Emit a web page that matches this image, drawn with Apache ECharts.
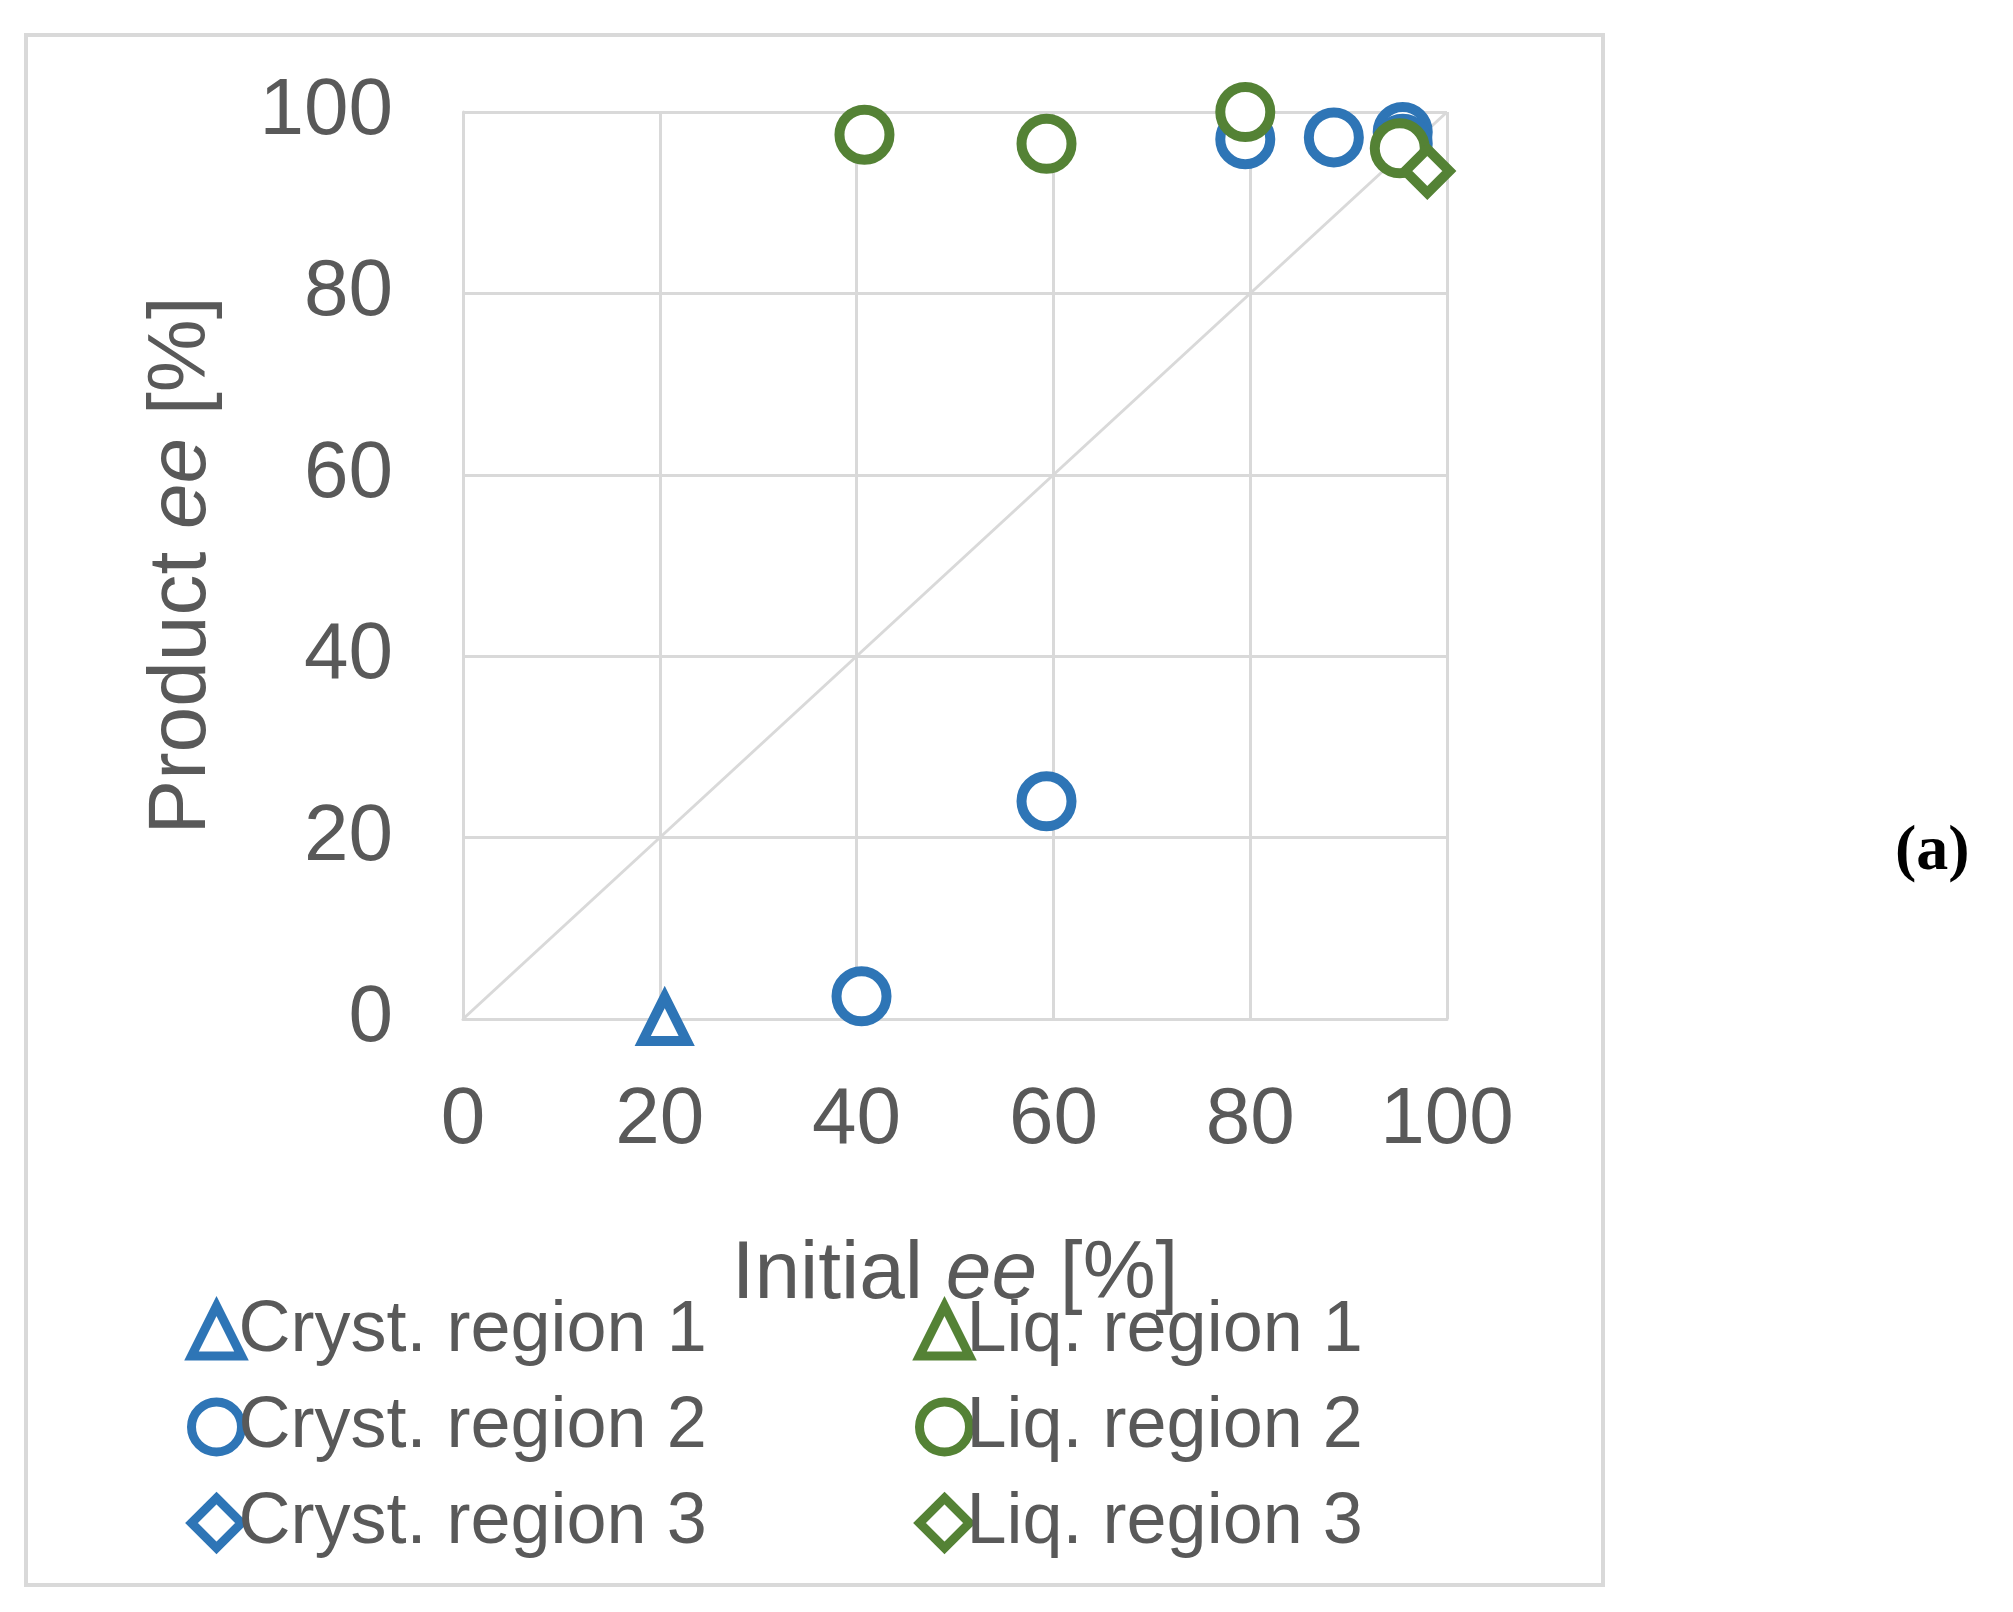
<!DOCTYPE html><html><head><meta charset="utf-8">
<script src="https://cdn.jsdelivr.net/npm/echarts@6/dist/echarts.min.js"></script>
<style>html,body{margin:0;background:#fff}#c{width:2013px;height:1612px}</style></head><body><div id="c"></div>
<script>
const crystRegion1 = [[20.5, 0]];
const crystRegion2 = [[40.5, 2.5], [59.3, 24], [79.5, 97], [88.5, 97.2], [95.5, 97.8], [95.5, 96.5]];
const crystRegion3 = [];
const liqRegion1 = [];
const liqRegion2 = [[40.8, 97.5], [59.3, 96.5], [79.5, 100], [95.2, 96]];
const liqRegion3 = [[98, 93.5]];
const diagonal = [[0, 0], [100, 100]];
const ticks = [0, 20, 40, 60, 80, 100];
const blue = '#2E75B6', green = '#548235', grey = '#595959';
const ff = 'Arial, "Liberation Sans", sans-serif';
function sc(name, data, sym, color, size) {
  return {name, type: 'scatter', data, symbol: sym, symbolSize: size,
    itemStyle: {color: '#fff', borderColor: color, borderWidth: 10, opacity: 1}, z: 3};
}
function legendIcon(color){ return {color: '#fff', borderColor: color, borderWidth: 9}; }
const chart = echarts.init(document.getElementById('c'));
const nameRich = {a: {fontSize: 82, color: grey, fontFamily: ff}, b: {fontSize: 82, color: grey, fontFamily: ff, fontStyle: 'italic'}};
chart.setOption({
  animation: false,
  graphic: [{type: 'rect', shape: {x: 26, y: 35, width: 1577, height: 1550},
    style: {fill: 'none', stroke: '#d9d9d9', lineWidth: 4}},
    {type: 'text', left: 1895, top: 820, style: {text: '(a)', font: 'bold 64px "Liberation Serif", serif', fill: '#000'}}],
  grid: {left: 463, right: 2013 - 1447, top: 112, bottom: 1612 - 1019},
  xAxis: {type: 'value', min: 0, max: 100, interval: 20,
    name: '{a|Initial }{b|ee}{a| [%]}', nameLocation: 'middle', nameGap: 215,
    nameTextStyle: {rich: nameRich},
    axisLine: {lineStyle: {color: '#d9d9d9', width: 3}}, axisTick: {show: false},
    splitLine: {lineStyle: {color: '#d9d9d9', width: 3}},
    axisLabel: {fontSize: 80, color: grey, fontFamily: ff, margin: 62}},
  yAxis: {type: 'value', min: 0, max: 100, interval: 20,
    name: '{a|Product }{b|ee}{a| [%]}', nameLocation: 'middle', nameGap: 240,
    nameTextStyle: {rich: nameRich},
    axisLine: {show: true, lineStyle: {color: '#d9d9d9', width: 3}}, axisTick: {show: false},
    splitLine: {lineStyle: {color: '#d9d9d9', width: 3}},
    axisLabel: {fontSize: 80, color: grey, fontFamily: ff, margin: 70}},
  legend: [
    {orient: 'vertical', left: 182, top: 1290, itemWidth: 50, itemHeight: 50, itemGap: 24,
      data: [{name: 'Cryst. region 1', itemStyle: legendIcon(blue)}, {name: 'Cryst. region 2', itemStyle: legendIcon(blue)}, {name: 'Cryst. region 3', itemStyle: legendIcon(blue)}],
      textStyle: {fontSize: 72, color: grey, fontFamily: ff, padding: [0, 0, 0, -8]}},
    {orient: 'vertical', left: 910, top: 1290, itemWidth: 50, itemHeight: 50, itemGap: 24,
      data: [{name: 'Liq. region 1', itemStyle: legendIcon(green)}, {name: 'Liq. region 2', itemStyle: legendIcon(green)}, {name: 'Liq. region 3', itemStyle: legendIcon(green)}],
      textStyle: {fontSize: 72, color: grey, fontFamily: ff, padding: [0, 0, 0, -8]}}],
  series: [
    {type: 'line', data: diagonal, symbol: 'none', lineStyle: {color: '#d9d9d9', width: 3}, z: 1, silent: true},
    sc('Cryst. region 1', crystRegion1, 'triangle', blue, 44),
    sc('Cryst. region 2', crystRegion2, 'circle', blue, 50),
    sc('Cryst. region 3', crystRegion3, 'diamond', blue, 44),
    sc('Liq. region 1', liqRegion1, 'triangle', green, 44),
    sc('Liq. region 2', liqRegion2, 'circle', green, 50),
    sc('Liq. region 3', liqRegion3, 'diamond', green, 44)
  ]
});
</script></body></html>
